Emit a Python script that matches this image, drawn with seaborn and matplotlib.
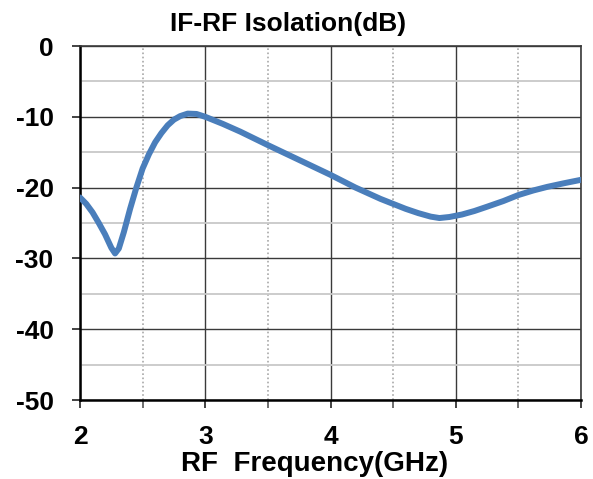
import matplotlib
matplotlib.use("Agg")
import matplotlib.pyplot as plt
from matplotlib.ticker import MultipleLocator
import seaborn as sns
import pandas as pd

freq_ghz = [2.00, 2.05, 2.10, 2.15, 2.20, 2.25, 2.28, 2.31, 2.35, 2.40,
            2.45, 2.50, 2.55, 2.60, 2.65, 2.70, 2.75, 2.80, 2.86, 2.93, 3.00,
            3.14, 3.28, 3.50, 3.75, 4.00, 4.20, 4.30, 4.40, 4.50, 4.60, 4.70,
            4.80, 4.87, 4.95, 5.05, 5.15, 5.25, 5.38, 5.50, 5.62, 5.73, 5.86, 6.00]
isolation_db = [-21.4, -22.3, -23.5, -25.0, -26.6, -28.5, -29.3, -28.6, -26.3, -23.0,
                -20.0, -17.3, -15.3, -13.6, -12.3, -11.2, -10.4, -9.9, -9.55, -9.6, -10.0,
                -11.0, -12.1, -14.0, -16.1, -18.2, -20.0, -20.8, -21.6, -22.3, -23.0, -23.6,
                -24.1, -24.3, -24.15, -23.8, -23.3, -22.7, -21.9, -21.05, -20.4, -19.9, -19.4, -18.9]
x_ticks = [2, 3, 4, 5, 6]
y_ticks = [0, -10, -20, -30, -40, -50]
title = "IF-RF Isolation(dB)"
xlabel = "RF  Frequency(GHz)"

sns.set_style("white")
plt.rcParams['font.family'] = ['Liberation Sans', 'DejaVu Sans']
plt.rcParams['font.weight'] = 'bold'
plt.rcParams['text.color'] = 'black'
plt.rcParams['xtick.color'] = 'black'
plt.rcParams['ytick.color'] = 'black'

df = pd.DataFrame({"freq": freq_ghz, "iso": isolation_db})

fig = plt.figure(figsize=(5.93, 4.79), dpi=100)
ax = fig.add_axes([80/593, 79/479, 501/593, 354/479])

ax.set_xlim(2, 6)
ax.set_ylim(-50, 0)
ax.xaxis.set_major_locator(MultipleLocator(1))
ax.xaxis.set_minor_locator(MultipleLocator(0.5))
ax.yaxis.set_major_locator(MultipleLocator(10))
ax.yaxis.set_minor_locator(MultipleLocator(5))

ax.grid(True, which='major', axis='both', color='#3a3a3a', linewidth=1.0)
ax.grid(True, which='minor', axis='y', color='#c8c8c8', linewidth=1.3, linestyle='-')
ax.grid(True, which='minor', axis='x', color='#a8a8a8', linewidth=1.2, linestyle=(0, (1, 1.5)))
ax.set_axisbelow(True)

sns.lineplot(data=df, x="freq", y="iso", ax=ax, color='#4a7ebb', linewidth=4.3,
             solid_capstyle='round', solid_joinstyle='round', zorder=5)

ax.set_xticks(x_ticks)
ax.set_yticks(y_ticks)
ax.set_xticklabels([str(v) for v in x_ticks], fontsize=19, fontweight='bold', color='black')
ax.set_yticklabels([str(v) for v in y_ticks], fontsize=19, fontweight='bold', color='black')
ax.tick_params(axis='x', which='major', direction='out', length=6, width=1.2, color='#222222', pad=12, bottom=True)
ax.tick_params(axis='x', which='minor', direction='out', length=6, width=1.2, color='#555555', bottom=True)
ax.tick_params(axis='y', which='major', direction='out', length=6, width=1.2, color='#222222', pad=13, left=True)
ax.tick_params(axis='y', which='minor', left=False)
ax.set_xlabel("")
ax.set_ylabel("")

for side in ['left', 'bottom']:
    ax.spines[side].set_color('#000000')
    ax.spines[side].set_linewidth(1.8)
for side in ['top', 'right']:
    ax.spines[side].set_color('#3a3a3a')
    ax.spines[side].set_linewidth(1.2)

fig.text(288/593, 1 - 24/479, title, ha='center', va='center', fontsize=19, fontweight='bold', color='black')
fig.text(315/593, 1 - 464/479, xlabel, ha='center', va='center', fontsize=20, fontweight='bold', color='black')

fig.savefig("out.png", dpi=100)
